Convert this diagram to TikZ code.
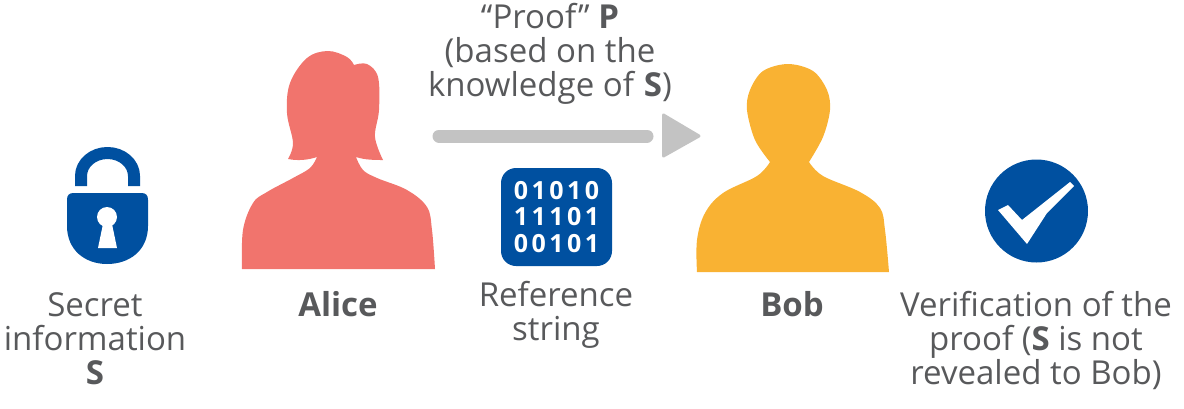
\documentclass[tikz,border=0pt]{standalone}
\usepackage{fontspec}
\setmainfont{Open Sans}
\newfontfamily\digitfont[LetterSpace=14]{Open Sans}
\definecolor{zkblue}{HTML}{0050A0}
\definecolor{alicered}{HTML}{F1746D}
\definecolor{bobyellow}{HTML}{F9B233}
\definecolor{arrowgray}{HTML}{C3C3C3}
\definecolor{textgray}{HTML}{58595B}
\tikzset{
    caption/.style={text=textgray,align=center,inner sep=0pt,font=\fontsize{33}{34}\selectfont},
    shaft/.style={draw=arrowgray,line width=13pt,line cap=round},
}

\begin{document}
\begin{tikzpicture}[x=1pt,y=-1pt,line join=round]
        \useasboundingbox (0,0) rectangle (1184,408);

        % draw the captions
        \foreach \name/\x/\y/\xtext in {
            proof/550/54/{``Proof'' \textbf{P}\\(based on the\\knowledge of \textbf{S})},
            secret/95/339/{Secret\\information\\\textbf{S}},
            alice/338/304/{\textbf{Alice}},
            reference/556/315/{Reference\\string},
            bob/792/304/{\textbf{Bob}},
            verify/1036/340/{Verification of the\\proof (\textbf{S} is not\\revealed to Bob)}}
                \node[caption] (\name) at (\x,\y) {\xtext};

        % draw the lock
        \draw[zkblue,line width=12pt] (81,186) -- (81,176) arc(180:360:26.5 and 23) -- (134,186);
        \fill[zkblue] (67,200) .. controls (67,195) and (69,193) .. (74,193)
            -- (141,193) .. controls (146,193) and (148,195) .. (148,200)
            -- (148,226) .. controls (148,250) and (130,264) .. (107,264)
            .. controls (85,264) and (67,250) .. (67,226) -- cycle;
        \fill[white] (107,217) circle(10pt);
        \fill[white] (103,224) -- (112,224) -- (117,248) -- (98,248) -- cycle;

        % draw Alice
        \fill[alicered] (242,269) -- plot[smooth,tension=0.6] coordinates {(242,269) (243,230) (253,203)
            (267,192) (293,178) (310,168) (317,157)}
            .. controls (308,160) and (298,161) .. (288,159)
            -- plot[smooth,tension=0.6] coordinates {(288,159) (293,143) (287,113) (290,83) (307,58)
            (328,51) (347,57) (354,65)}
            -- plot[smooth,tension=0.6] coordinates {(354,65) (367,64) (378,77) (379,110) (375,137) (383,160)}
            .. controls (375,160) and (365,160) .. (356,157)
            -- plot[smooth,tension=0.6] coordinates {(356,157) (363,170) (377,178) (407,190) (427,207)
            (432,230) (435,269)} -- cycle;

        % draw the arrow
        \coordinate (shaftstart) at (439,136);
        \coordinate (shaftend) at (647,136);
        \draw[shaft] (shaftstart) -- (shaftend);
        \fill[arrowgray,draw=arrowgray,line width=3pt] (663.5,115) -- (699,136) -- (663.5,156) -- cycle;

        % draw the reference string
        \node[fill=zkblue,rounded corners=15pt,minimum width=111pt,minimum height=98pt,inner sep=0pt,
            text=white,align=center,font=\fontsize{25}{26.5}\selectfont\digitfont\bfseries]
            (string) at (556.5,217) {01010\\11101\\00101};

        % draw Bob
        \fill[bobyellow] (697,272) -- plot[smooth,tension=0.6] coordinates {(697,272) (697,240) (705,213)
            (723,193) (757,176) (770,162)}
            -- plot[smooth,tension=0.55] coordinates {(770,162) (755,140) (747,110) (750,90) (763,71) (788,64)
            (813,71) (827,90) (830,110) (823,137) (809,162)}
            -- plot[smooth,tension=0.6] coordinates {(809,162) (823,176) (860,192) (880,208) (885,230) (889,272)}
            -- cycle;

        % draw the check mark
        \node[fill=zkblue,circle,minimum size=103pt,inner sep=0pt] (check) at (1036.5,211) {};
        \fill[white] (998,210) -- (1008,205) -- (1022,220) -- (1070,182) -- (1074,186)
            -- (1047,213) -- (1027,244) -- cycle;
\end{tikzpicture}
\end{document}
